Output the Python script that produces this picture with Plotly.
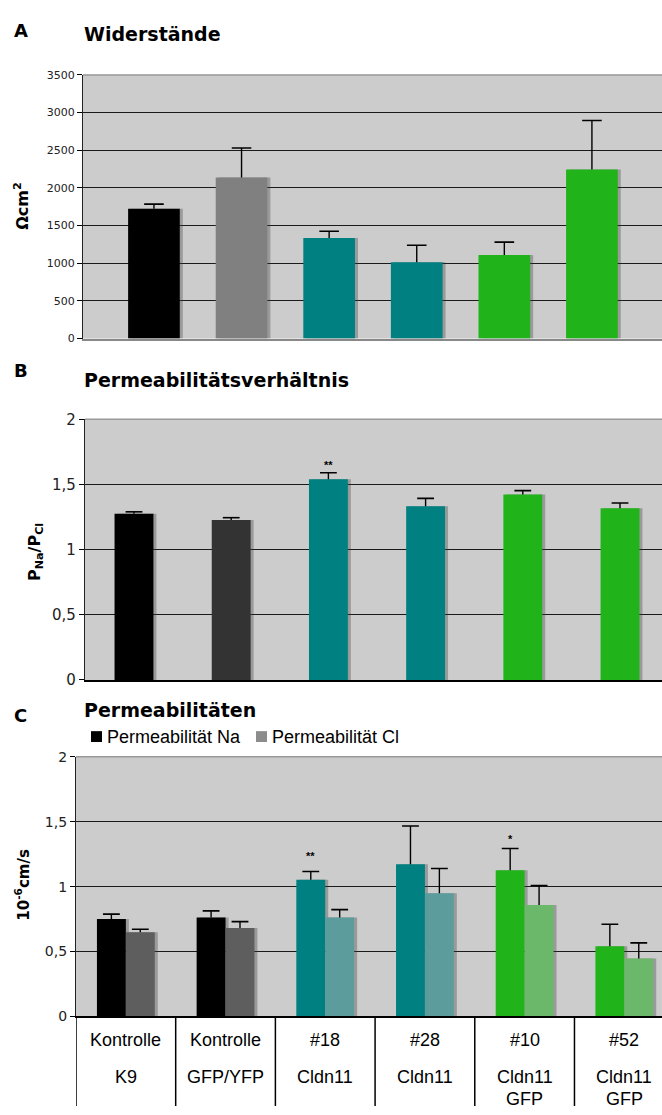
import plotly.graph_objects as go

W, H = 662, 1115


def px(x):
    return x / W


def py(y):
    return 1 - y / H


# ---------------- data ----------------
positions = [0, 1, 2, 3, 4, 5]
row1 = ["Kontrolle", "Kontrolle", "#18", "#28", "#10", "#52"]
row2 = ["K9", "GFP/YFP", "Cldn11", "Cldn11", "Cldn11", "Cldn11"]
row3 = ["", "", "", "", "GFP", "GFP"]

resist = [1725, 2140, 1335, 1015, 1110, 2245]
resist_err = [60, 390, 90, 225, 170, 650]

ratio = [1.275, 1.227, 1.54, 1.333, 1.423, 1.318]
ratio_err = [0.015, 0.018, 0.05, 0.06, 0.03, 0.04]
ratio_sig = ["", "", "**", "", "", ""]

perm_na = [0.75, 0.763, 1.053, 1.172, 1.126, 0.54]
perm_na_err = [0.038, 0.05, 0.063, 0.295, 0.167, 0.17]
perm_cl = [0.649, 0.682, 0.763, 0.949, 0.859, 0.447]
perm_cl_err = [0.023, 0.048, 0.06, 0.19, 0.15, 0.12]
perm_sig = ["", "", "**", "", "*", ""]

yticks_A = [0, 500, 1000, 1500, 2000, 2500, 3000, 3500]
yticks_BC = [0, 0.5, 1, 1.5, 2]
yticklabels_BC = ["0", "0,5", "1", "1,5", "2"]

# ---------------- styles ----------------
BLACK = "#000000"
TEAL = "#008080"
GREEN = "#21B41A"
SHADOW = "rgba(60,60,60,0.35)"
colors_A = [BLACK, "#808080", TEAL, TEAL, GREEN, GREEN]
colors_B = [BLACK, "#333333", TEAL, TEAL, GREEN, GREEN]
colors_na = [BLACK, BLACK, TEAL, TEAL, GREEN, GREEN]
colors_cl = ["#5E5E5E", "#5E5E5E", "#5C9C9C", "#5C9C9C", "#6BB86B", "#6BB86B"]

TICKFONT = "DejaVu Sans, Arial, sans-serif"
TITLEFONT = "DejaVu Sans, Arial, sans-serif"
ARIAL = "Liberation Sans, Arial, sans-serif"

fig = go.Figure()


def add_bars(y, err, colors, xa, ya, width, offset, cap, unit_px):
    shift = 3.0 / unit_px
    # soft shadow to the right of each bar
    fig.add_trace(go.Bar(x=positions, y=y, width=width, offset=offset + shift,
                         marker=dict(color=SHADOW, line=dict(width=0)),
                         xaxis=xa, yaxis=ya, showlegend=False, hoverinfo="skip"))
    # bar with upper error stem only
    fig.add_trace(go.Bar(x=positions, y=y, width=width, offset=offset,
                         marker=dict(color=colors, line=dict(width=0)),
                         error_y=dict(type="data", array=err, arrayminus=[0] * len(err), symmetric=False,
                                      color="black", thickness=1.4, width=0),
                         xaxis=xa, yaxis=ya, showlegend=False))
    # error bar caps (top only)
    centers = [p + offset + width / 2 for p in positions]
    tops = [v + e for v, e in zip(y, err)]
    fig.add_trace(go.Scatter(x=centers, y=tops, mode="markers",
                             marker=dict(symbol="line-ew-open", size=2 * cap, color="black",
                                         line=dict(color="black", width=1.6)),
                             xaxis=xa, yaxis=ya, showlegend=False, hoverinfo="skip"))


add_bars(resist, resist_err, colors_A, "x", "y", 0.59, -0.295, 7, 87.6)
add_bars(ratio, ratio_err, colors_B, "x2", "y2", 0.40, -0.20, 6, 97.2)
add_bars(perm_na, perm_na_err, colors_na, "x3", "y3", 0.29, -0.29, 6, 99.7)
add_bars(perm_cl, perm_cl_err, colors_cl, "x3", "y3", 0.29, 0.0, 6, 99.7)

xcommon = dict(showticklabels=False, showgrid=False, zeroline=False, ticks="",
               showline=True, linewidth=1.5)
ycommon = dict(showgrid=True, gridcolor="#1a1a1a", gridwidth=1.3, zeroline=False,
               ticks="outside", ticklen=5, tickcolor="black", tickwidth=1.2,
               showline=True, linecolor="#222222", linewidth=1.2)

fig.update_layout(
    width=W, height=H, margin=dict(l=0, r=0, t=0, b=0),
    paper_bgcolor="white", plot_bgcolor="#CCCCCC",
    barmode="overlay",
    showlegend=False,
    xaxis=dict(domain=[px(83), 1], range=[-0.81, 5.80], anchor="y", linecolor="#888888", **xcommon),
    yaxis=dict(domain=[py(335), py(67)], range=[0, 3500], tickvals=yticks_A, anchor="x",
               tickfont=dict(family=TICKFONT, size=11, color="#222"), **ycommon),
    xaxis2=dict(domain=[px(85), 1], range=[-0.504, 5.432], anchor="y2", linecolor="black", **xcommon),
    yaxis2=dict(domain=[py(682), py(417)], range=[0, 2], tickvals=yticks_BC, ticktext=yticklabels_BC,
                anchor="x2", tickfont=dict(family=TICKFONT, size=15, color="#222"), **ycommon),
    xaxis3=dict(domain=[px(76), 1], range=[-0.5, 5.378], anchor="y3", linecolor="black", **xcommon),
    yaxis3=dict(domain=[py(1024), py(760)], range=[0, 2], tickvals=yticks_BC, ticktext=yticklabels_BC,
                anchor="x3", tickfont=dict(family=TICKFONT, size=14, color="#222"), **ycommon),
)

ann = []
shapes = []

# panel letters and titles
for letter, ly, title, ty in [("A", 22, "Widerstände", 25), ("B", 367, "Permeabilitätsverhältnis", 377),
                              ("C", 718, "Permeabilitäten", 713)]:
    ann.append(dict(text=letter, x=px(12), y=py(ly), xref="paper", yref="paper", xanchor="left",
                    yanchor="middle", showarrow=False,
                    font=dict(family=TITLEFONT, size=18, color="black", weight="bold")))
    ann.append(dict(text=title, x=px(82), y=py(ty), xref="paper", yref="paper", xanchor="left",
                    yanchor="middle", showarrow=False,
                    font=dict(family=TITLEFONT, size=19, color="black", weight="bold")))

# y axis titles
ann.append(dict(text="Ωcm<sup>2</sup>", x=px(22), y=py(200), xref="paper", yref="paper", textangle=-90,
                xanchor="center", yanchor="middle", showarrow=False,
                font=dict(family=TITLEFONT, size=16, color="black", weight="bold")))
ann.append(dict(text="P<sub>Na</sub>/P<sub>Cl</sub>", x=px(35), y=py(552), xref="paper", yref="paper",
                textangle=-90, xanchor="center", yanchor="middle", showarrow=False,
                font=dict(family=TITLEFONT, size=16, color="black", weight="bold")))
ann.append(dict(text="10<sup>-6</sup>cm/s", x=px(22), y=py(890), xref="paper", yref="paper", textangle=-90,
                xanchor="center", yanchor="middle", showarrow=False,
                font=dict(family=TITLEFONT, size=15, color="black", weight="bold")))

# significance stars
for i, s in enumerate(ratio_sig):
    if s:
        ann.append(dict(text=s, x=positions[i], y=ratio[i] + ratio_err[i], xref="x2", yref="y2",
                        yanchor="bottom", yshift=0, showarrow=False,
                        font=dict(family=ARIAL, size=11, color="black", weight="bold")))
for i, s in enumerate(perm_sig):
    if s:
        ann.append(dict(text=s, x=positions[i] - 0.145, y=perm_na[i] + perm_na_err[i], xref="x3",
                        yref="y3", yanchor="bottom", yshift=8 if s == "**" else 2, showarrow=False,
                        font=dict(family=ARIAL, size=11, color="black", weight="bold")))

# legend (panel C)
shapes.append(dict(type="rect", xref="paper", yref="paper", x0=px(91), x1=px(102), y0=py(745), y1=py(734),
                   fillcolor="black", line=dict(width=0)))
ann.append(dict(text="Permeabilität Na", x=px(105), y=py(740), xref="paper", yref="paper", xanchor="left",
                yanchor="middle", showarrow=False, font=dict(family=ARIAL, size=18, color="black")))
shapes.append(dict(type="rect", xref="paper", yref="paper", x0=px(256), x1=px(267), y0=py(745), y1=py(734),
                   fillcolor="#8C8C8C", line=dict(width=0)))
ann.append(dict(text="Permeabilität Cl", x=px(270), y=py(740), xref="paper", yref="paper", xanchor="left",
                yanchor="middle", showarrow=False, font=dict(family=ARIAL, size=18, color="black")))

# top borders of plot areas
for ytop, x0 in [(67, 83), (417, 85), (760, 76)]:
    shapes.append(dict(type="line", xref="paper", yref="paper", x0=px(x0), x1=1, y0=py(ytop), y1=py(ytop),
                       line=dict(color="#999999", width=1.5)))

# category table under panel C
for k in range(6):
    shapes.append(dict(type="line", xref="x3", yref="paper", x0=k - 0.5, x1=k - 0.5, y0=py(1024), y1=0,
                       line=dict(color="black", width=1.5)))
for i in range(6):
    for txt, yy in [(row1[i], 1048), (row2[i], 1086), (row3[i], 1108)]:
        if txt:
            ann.append(dict(text=txt, x=positions[i], y=py(yy), xref="x3", yref="paper", xanchor="center",
                            yanchor="middle", showarrow=False,
                            font=dict(family=ARIAL, size=18, color="black")))

fig.update_layout(annotations=ann, shapes=shapes)
fig.write_html("out.html")
